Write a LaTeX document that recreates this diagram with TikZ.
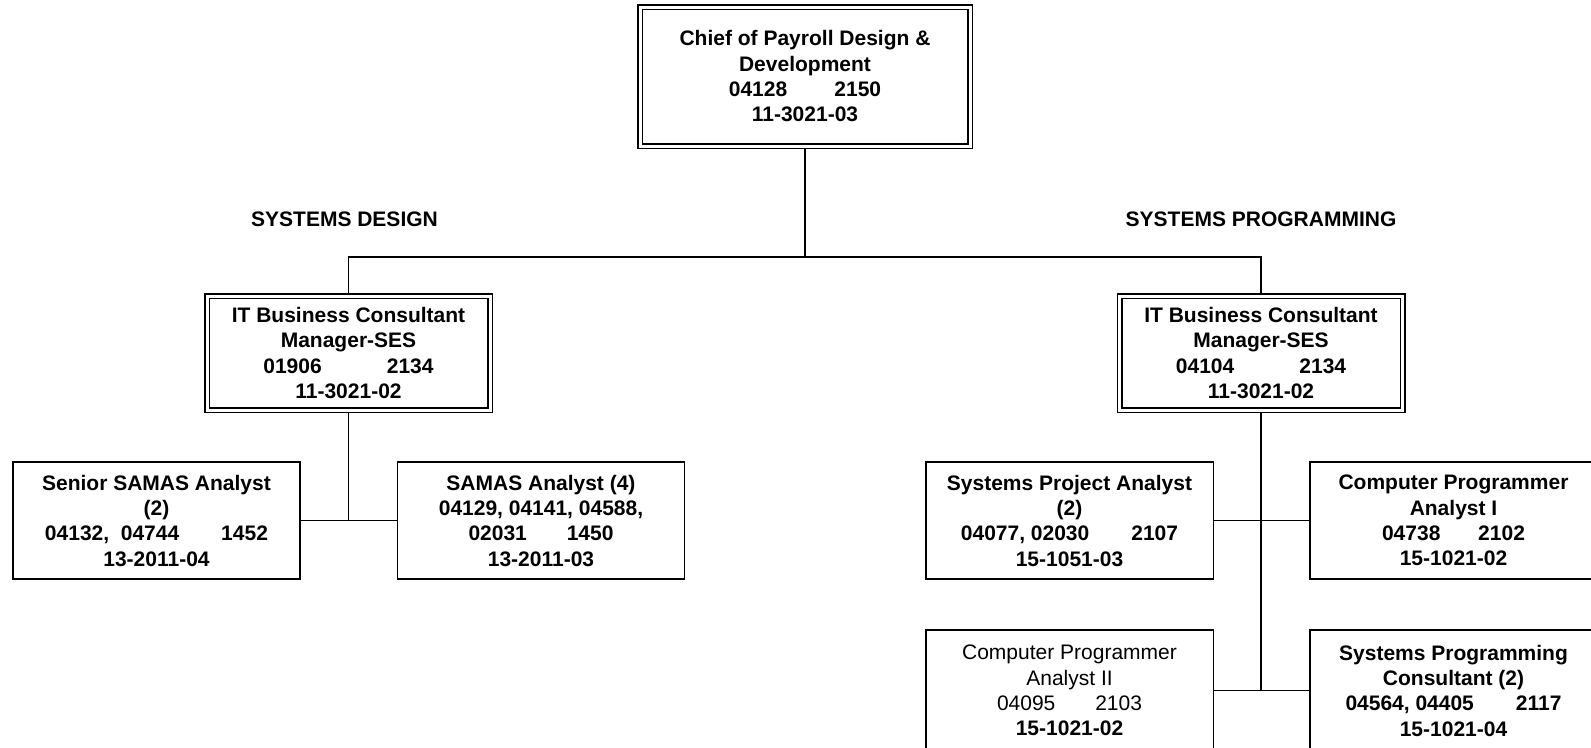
\documentclass[tikz,border=0pt]{standalone}
\usepackage{fontspec}
\setmainfont{Liberation Sans}
\begin{document}
\begin{tikzpicture}[x=0.75pt,y=-0.75pt,
  txt/.style={font=\bfseries\fontsize{15.75}{19}\selectfont, align=center, inner sep=0pt},
  unitbox/.style={txt, draw, line width=1.125pt, minimum width=215.6pt, minimum height=88.1pt},
  headbox/.style={txt, draw, line width=1.125pt, double, double distance=2.25pt, outer sep=2.25pt},
  link/.style={line width=1.2pt}]
\useasboundingbox (0,0) rectangle (1591,747);

% chief and the two section managers
\node[headbox, minimum width=247.5pt, minimum height=104.25pt] (top) at (805,76.5)
  {Chief of Payroll Design \&\\Development\\04128\hspace{2.25em}2150\\11-3021-03};
\node[headbox, minimum width=212.25pt, minimum height=85.5pt] (mgrL) at (348.5,353)
  {IT Business Consultant\\Manager-SES\\01906\hspace{3.1em}2134\\11-3021-02};
\node[headbox, minimum width=212.25pt, minimum height=85.5pt] (mgrR) at (1261,353)
  {IT Business Consultant\\Manager-SES\\04104\hspace{3.1em}2134\\11-3021-02};

% section titles
\node[txt] (tDesign) at (344.5,219) {SYSTEMS DESIGN};
\node[txt] (tProg) at (1261,219) {SYSTEMS PROGRAMMING};

% systems design units
\node[unitbox] (senior) at (156.5,520.5)
  {Senior SAMAS Analyst\\(2)\\04132,\ \ 04744\hspace{2em}1452\\13-2011-04};
\node[unitbox] (samas) at (541,520.5)
  {SAMAS Analyst (4)\\04129, 04141, 04588,\\02031\hspace{1.9em}1450\\13-2011-03};

% systems programming units (the lowest row runs past the page edge)
\node[unitbox] (spa) at (1069.5,520.5)
  {Systems Project Analyst\\(2)\\04077, 02030\hspace{2em}2107\\15-1051-03};
\node[unitbox] (cpa1) at (1453.5,520.5)
  {Computer Programmer\\Analyst I\\04738\hspace{1.8em}2102\\15-1021-02};
\node[unitbox, minimum height=91.1pt] (cpa2) at (1069.5,690.5)
  {\textmd{Computer Programmer}\\\textmd{Analyst II}\\\textmd{04095\hspace{1.9em}2103}\\15-1021-02};
\node[unitbox, minimum height=91.1pt] (spc) at (1453.5,690.5)
  {Systems Programming\\Consultant (2)\\04564, 04405\hspace{2em}2117\\15-1021-04};

% connectors
\coordinate (hub) at (805,257);
\draw[link] (top.south) -- (hub);
\draw[link] (mgrL.north) |- (hub) -| (mgrR.north);
\draw[link] (mgrL.south) -- (mgrL.south |- senior.east);
\draw[link] (senior.east) -- (samas.west);
\draw[link] (mgrR.south) -- (mgrR.south |- cpa2.east);
\draw[link] (spa.east) -- (cpa1.west);
\draw[link] (cpa2.east) -- (spc.west);
\end{tikzpicture}
\end{document}
